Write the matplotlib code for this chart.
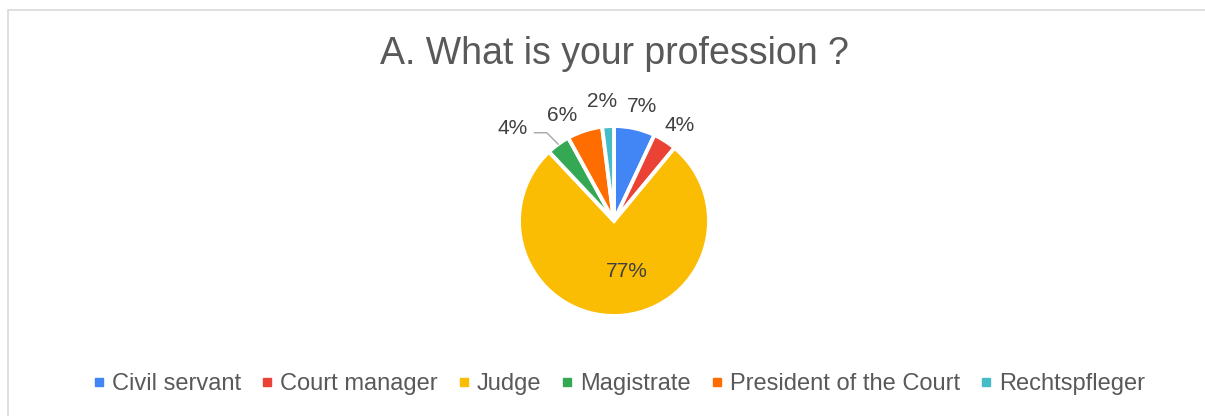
import matplotlib.pyplot as plt
from matplotlib.patches import Rectangle
import numpy as np

plt.rcParams['font.family'] = ['Liberation Sans', 'DejaVu Sans']

professions = ['Civil servant', 'Court manager', 'Judge', 'Magistrate',
               'President of the Court', 'Rechtspfleger']
shares = [7, 4, 77, 4, 6, 2]
colors = ['#4285F4', '#EA4335', '#FBBC04', '#34A853', '#FF6D01', '#46BDC6']

W, H = 1205, 416
fig = plt.figure(figsize=(W / 100, H / 100), dpi=100)

# chart frame (light grey border, open at the right/bottom edges)
fig.patches.append(Rectangle((8 / W, -0.1), 1.2, (H - 10) / H + 0.1,
                             transform=fig.transFigure, fill=False,
                             edgecolor='#D9D9D9', linewidth=1.2))

fig.text(614 / W, 1 - 54 / H, 'A. What is your profession ?',
         ha='center', va='center', fontsize=27, color='#595959')

# pie axes, centred at (614, 221) px with radius ~95 px
r_px = 95
ax = fig.add_axes([(614 - r_px) / W, (H - 221 - r_px) / H, 2 * r_px / W, 2 * r_px / H])
wedges, _ = ax.pie(shares, colors=colors, startangle=90, counterclock=False,
                   wedgeprops=dict(edgecolor='white', linewidth=2.8))
ax.set_xlim(-1, 1)
ax.set_ylim(-1, 1)
ax.set_aspect('equal')
ax.axis('off')

total = sum(shares)
cum = np.cumsum([0] + shares[:-1])
dist = [1.24, 1.22, 0.55, 1.45, 1.24, 1.26]
shift = [-1, -2, 12.5, 11.6, 8, 2]  # angular nudge in degrees
for i, v in enumerate(shares):
    mid = 90 - (cum[i] + v / 2) / total * 360 + shift[i]
    a = np.deg2rad(mid)
    x, y = dist[i] * np.cos(a), dist[i] * np.sin(a)
    ax.text(x, y, f'{v}%', ha='center', va='center', fontsize=15,
            color='#404040', clip_on=False)

# leader line for the Magistrate label
mid = np.deg2rad(90 - (cum[3] + shares[3] / 2) / total * 360)
ex, ey = 1.0 * np.cos(mid), 1.0 * np.sin(mid)
ax.plot([ex, ex - 0.12, ex - 0.25], [ey, ey + 0.12, ey + 0.12],
        color='#A6A6A6', linewidth=1, clip_on=False)

handles = [plt.Line2D([], [], marker='s', linestyle='', markersize=6,
                      color=c) for c in colors]
fig.legend(handles, professions, loc='center', bbox_to_anchor=(619 / W, 1 - 384 / H),
           ncol=6, frameon=False, fontsize=17, handlelength=0.5,
           handletextpad=0.3, columnspacing=0.85, labelcolor='#595959')

fig.savefig('out.png', dpi=100)
